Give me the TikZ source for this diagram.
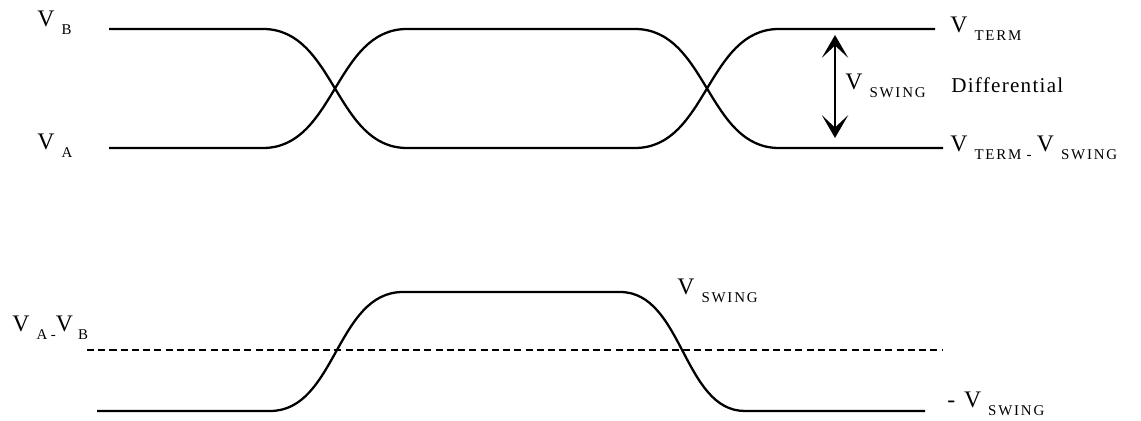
\documentclass[tikz,border=0pt]{standalone}
\usepackage{fontspec}
\setmainfont{Liberation Serif}
\usetikzlibrary{arrows.meta}

\newcommand{\subsz}{\fontsize{8.5}{9}\selectfont\addfontfeature{LetterSpace=12}}
\newcommand{\lowsub}[1]{\raisebox{-4.5pt}{\subsz #1}}
\newcommand{\vsig}[1]{V\hspace{4pt}\lowsub{#1}}

\begin{document}
\begin{tikzpicture}[x=0.02cm,y=-0.02cm,
      wave/.style={line width=1.3pt,line join=round},
      level/.style={line width=1.1pt,dash pattern=on 4pt off 2.4pt},
      lbl/.style={anchor=base west,inner sep=0pt,font=\fontsize{13.5}{15}\selectfont},
      note/.style={anchor=base west,inner sep=0pt,font=\fontsize{12}{14}\selectfont\addfontfeature{LetterSpace=6}},
      swing/.style={line width=1.3pt,{Stealth[length=13pt,width=15pt,inset=7pt]}-{Stealth[length=13pt,width=15pt,inset=7pt]}}]
    \useasboundingbox (0,0) rectangle (1141,421);
    % labels of the single ended pair
    \node[lbl] (vb) at (37,27) {\vsig{B}};
    \node[lbl] (va) at (37,150) {\vsig{A}};
    \node[lbl] (vterm) at (950,33) {\vsig{TERM}};
    \node[lbl] (vlow) at (950,152) {\vsig{TERM\hspace{3pt}-}\hspace{3pt}\vsig{SWING}};
    \node[lbl] (vsw) at (845,90) {\vsig{SWING}};
    \node[note] (diff) at (951,93) {Differential};
    % labels of the differential signal
    \node[lbl] (vab) at (12,332) {V\hspace{4pt}\lowsub{A\hspace{2pt}-}V\hspace{3pt}\lowsub{B}};
    \node[lbl] (vhigh) at (677,295) {\vsig{SWING}};
    \node[lbl] (vneg) at (947,408) {-\hspace{5pt}\vsig{SWING}};
    % V_B
    \draw[wave] (109,29) -- (263,29) .. controls (335,29) and (335,148) .. (407,148)
      -- (635,148) .. controls (707,148) and (707,29) .. (779,29) -- (935,29);
    % V_A
    \draw[wave] (109,148) -- (263,148) .. controls (335,148) and (335,29) .. (407,29)
      -- (635,29) .. controls (707,29) and (707,148) .. (779,148) -- (943,148);
    % V_A - V_B
    \draw[level] (87,350) -- (942,350);
    \draw[wave] (97,411) -- (270,411) .. controls (336,411) and (336,292) .. (403,292)
      -- (620,292) .. controls (683,292) and (683,411) .. (745,411) -- (925,411);
    \coordinate (swtop) at (835,35);
    \coordinate (swbot) at (835,138);
    \draw[swing] (swtop) -- (swbot);
  \end{tikzpicture}
\end{document}
